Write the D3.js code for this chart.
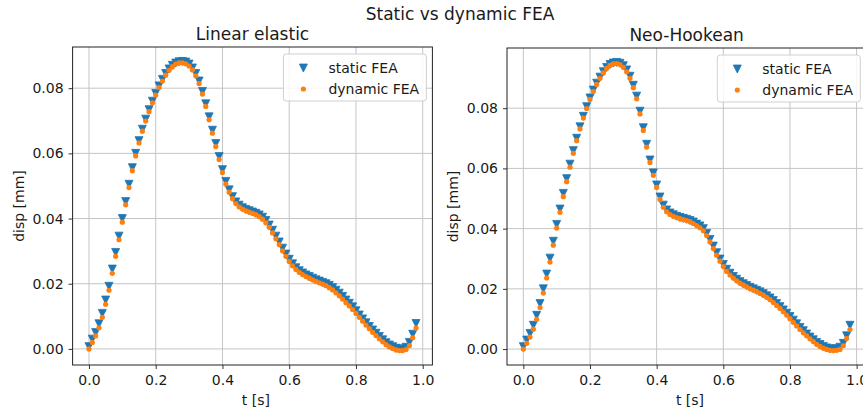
<!DOCTYPE html>
<html>
<head>
<meta charset="utf-8">
<script src="https://cdn.jsdelivr.net/npm/d3@7"></script>
<style>
  html, body { margin: 0; padding: 0; background: #fff; }
  svg { display: block; font-family: "DejaVu Sans", sans-serif; }
</style>
</head>
<body>
<script>
// Time steps [s]
const time = [
  0.00,0.01,0.02,0.03,0.04,0.05,0.06,0.07,0.08,0.09,
  0.10,0.11,0.12,0.13,0.14,0.15,0.16,0.17,0.18,0.19,
  0.20,0.21,0.22,0.23,0.24,0.25,0.26,0.27,0.28,0.29,
  0.30,0.31,0.32,0.33,0.34,0.35,0.36,0.37,0.38,0.39,
  0.40,0.41,0.42,0.43,0.44,0.45,0.46,0.47,0.48,0.49,
  0.50,0.51,0.52,0.53,0.54,0.55,0.56,0.57,0.58,0.59,
  0.60,0.61,0.62,0.63,0.64,0.65,0.66,0.67,0.68,0.69,
  0.70,0.71,0.72,0.73,0.74,0.75,0.76,0.77,0.78,0.79,
  0.80,0.81,0.82,0.83,0.84,0.85,0.86,0.87,0.88,0.89,
  0.90,0.91,0.92,0.93,0.94,0.95,0.96,0.97,0.98
];

// Linear elastic material: displacement [mm]
const linearStatic = [
  0.0007,0.0030,0.0050,0.0077,0.0109,0.0150,0.0192,0.0245,0.0296,0.0346,
  0.0400,0.0452,0.0505,0.0556,0.0600,0.0639,0.0674,0.0705,0.0734,0.0760,
  0.0784,0.0807,0.0827,0.0845,0.0859,0.0870,0.0877,0.0881,0.0882,0.0880,
  0.0874,0.0862,0.0845,0.0822,0.0790,0.0752,0.0712,0.0671,0.0630,0.0590,
  0.0550,0.0514,0.0488,0.0467,0.0451,0.0441,0.0433,0.0428,0.0424,0.0420,
  0.0416,0.0411,0.0404,0.0394,0.0380,0.0364,0.0346,0.0328,0.0309,0.0291,
  0.0275,0.0261,0.0249,0.0240,0.0233,0.0227,0.0222,0.0217,0.0212,0.0208,
  0.0204,0.0200,0.0195,0.0188,0.0180,0.0171,0.0161,0.0150,0.0140,0.0129,
  0.0117,0.0104,0.0092,0.0080,0.0069,0.0058,0.0048,0.0038,0.0028,0.0019,
  0.0012,0.0007,0.0002,0.0000,0.0000,0.0005,0.0020,0.0045,0.0078
];
const linearDynamic = [
  0.0000,0.0020,0.0040,0.0065,0.0097,0.0137,0.0180,0.0232,0.0284,0.0335,
  0.0389,0.0442,0.0495,0.0547,0.0592,0.0632,0.0668,0.0699,0.0728,0.0755,
  0.0779,0.0802,0.0822,0.0840,0.0855,0.0866,0.0874,0.0878,0.0878,0.0875,
  0.0868,0.0856,0.0838,0.0814,0.0782,0.0744,0.0703,0.0662,0.0621,0.0581,
  0.0541,0.0506,0.0481,0.0461,0.0446,0.0436,0.0429,0.0424,0.0420,0.0416,
  0.0412,0.0406,0.0398,0.0387,0.0373,0.0356,0.0338,0.0320,0.0301,0.0284,
  0.0268,0.0255,0.0244,0.0235,0.0228,0.0222,0.0217,0.0212,0.0207,0.0203,
  0.0199,0.0194,0.0188,0.0181,0.0172,0.0163,0.0153,0.0142,0.0132,0.0121,
  0.0109,0.0097,0.0085,0.0073,0.0062,0.0051,0.0041,0.0031,0.0022,0.0013,
  0.0006,0.0001,-0.0003,-0.0005,-0.0005,-0.0002,0.0010,0.0034,0.0064
];

// Neo-Hookean material: displacement [mm]
const neoStatic = [
  0.0008,0.0030,0.0052,0.0079,0.0112,0.0151,0.0200,0.0249,0.0302,0.0358,
  0.0414,0.0465,0.0517,0.0566,0.0614,0.0659,0.0700,0.0738,0.0773,0.0805,
  0.0834,0.0860,0.0883,0.0903,0.0921,0.0935,0.0945,0.0950,0.0952,0.0949,
  0.0941,0.0927,0.0906,0.0876,0.0840,0.0790,0.0735,0.0680,0.0628,0.0585,
  0.0545,0.0505,0.0478,0.0462,0.0452,0.0446,0.0441,0.0437,0.0434,0.0431,
  0.0427,0.0422,0.0415,0.0409,0.0400,0.0384,0.0364,0.0342,0.0320,0.0299,
  0.0281,0.0265,0.0252,0.0241,0.0232,0.0224,0.0217,0.0211,0.0205,0.0200,
  0.0195,0.0190,0.0184,0.0177,0.0170,0.0161,0.0151,0.0141,0.0130,0.0119,
  0.0108,0.0096,0.0084,0.0072,0.0061,0.0050,0.0040,0.0031,0.0022,0.0015,
  0.0009,0.0004,0.0001,0.0000,0.0001,0.0006,0.0019,0.0044,0.0079
];
const neoDynamic = [
  0.0000,0.0019,0.0040,0.0066,0.0099,0.0138,0.0186,0.0236,0.0289,0.0345,
  0.0402,0.0454,0.0506,0.0556,0.0604,0.0650,0.0692,0.0731,0.0767,0.0799,
  0.0829,0.0855,0.0879,0.0899,0.0917,0.0932,0.0942,0.0947,0.0948,0.0945,
  0.0936,0.0921,0.0899,0.0868,0.0831,0.0781,0.0726,0.0671,0.0620,0.0577,
  0.0537,0.0497,0.0471,0.0456,0.0447,0.0441,0.0437,0.0433,0.0430,0.0427,
  0.0423,0.0417,0.0410,0.0403,0.0393,0.0377,0.0356,0.0334,0.0312,0.0292,
  0.0274,0.0258,0.0246,0.0236,0.0227,0.0219,0.0213,0.0207,0.0201,0.0196,
  0.0191,0.0185,0.0179,0.0172,0.0164,0.0155,0.0145,0.0135,0.0124,0.0113,
  0.0101,0.0089,0.0077,0.0065,0.0054,0.0044,0.0034,0.0025,0.0016,0.0009,
  0.0003,-0.0001,-0.0004,-0.0005,-0.0004,-0.0001,0.0011,0.0035,0.0065
];

const seriesNames = ["static FEA", "dynamic FEA"];
const panelTitles = ["Linear elastic", "Neo-Hookean"];
const xTicks = [0.0, 0.2, 0.4, 0.6, 0.8, 1.0];
const yTicks = [0.00, 0.02, 0.04, 0.06, 0.08];
const suptitle = "Static vs dynamic FEA";
const xLabel = "t [s]";
const yLabel = "disp [mm]";

const W = 863, H = 412;
const BLUE = "#1f77b4", ORANGE = "#ff7f0e";
const TEXT = "#1a1a1a";

const svg = d3.select("body").append("svg")
  .attr("width", W).attr("height", H);
svg.append("rect").attr("width", W).attr("height", H).attr("fill", "#fff");

svg.append("text")
  .attr("x", 460).attr("y", 20)
  .attr("text-anchor", "middle")
  .attr("font-size", 17).attr("fill", TEXT)
  .text(suptitle);

// matplotlib-style 5% margin around the data
function padded([lo, hi]) {
  const p = (hi - lo) * 0.05;
  return [lo - p, hi + p];
}

// downward triangle marker
function triangleDown(r) {
  return `M0,${r} L${-r},${-r} L${r},${-r} Z`;
}

function drawPanel(opts) {
  const { left, right, top, bottom, title, staticVals, dynamicVals, yLabelX } = opts;
  const g = svg.append("g");

  const x = d3.scaleLinear().domain(padded(d3.extent(time))).range([left, right]);
  const allY = staticVals.concat(dynamicVals);
  const y = d3.scaleLinear().domain(padded(d3.extent(allY))).range([bottom, top]);

  // grid
  g.append("g").selectAll("line").data(xTicks).join("line")
    .attr("x1", d => x(d)).attr("x2", d => x(d))
    .attr("y1", top).attr("y2", bottom)
    .attr("stroke", "#c4c4c4").attr("stroke-width", 1);
  g.append("g").selectAll("line").data(yTicks).join("line")
    .attr("x1", left).attr("x2", right)
    .attr("y1", d => y(d)).attr("y2", d => y(d))
    .attr("stroke", "#c4c4c4").attr("stroke-width", 1);

  // axes
  const xAxis = d3.axisBottom(x).tickValues(xTicks).tickFormat(d => d.toFixed(1))
    .tickSizeInner(4).tickSizeOuter(0).tickPadding(4);
  const yAxis = d3.axisLeft(y).tickValues(yTicks).tickFormat(d => d.toFixed(2))
    .tickSizeInner(4).tickSizeOuter(0).tickPadding(5);

  const gx = g.append("g").attr("transform", `translate(0,${bottom})`).call(xAxis);
  const gy = g.append("g").attr("transform", `translate(${left},0)`).call(yAxis);
  [gx, gy].forEach(a => {
    a.select(".domain").remove();
    a.selectAll(".tick line").attr("stroke", "#333").attr("stroke-width", 1);
    a.selectAll(".tick text").attr("font-size", 14).attr("fill", TEXT)
      .attr("font-family", "DejaVu Sans");
  });
  gx.selectAll(".tick text").attr("dy", "0.85em");

  // spines
  g.append("rect")
    .attr("x", left).attr("y", top)
    .attr("width", right - left).attr("height", bottom - top)
    .attr("fill", "none").attr("stroke", "#222").attr("stroke-width", 1);

  // series: static as downward triangles, dynamic as dots
  g.append("g").selectAll("path").data(staticVals).join("path")
    .attr("d", triangleDown(4))
    .attr("transform", (d, i) => `translate(${x(time[i])},${y(d)})`)
    .attr("fill", BLUE).attr("stroke", BLUE).attr("stroke-width", 0.8);
  g.append("g").selectAll("circle").data(dynamicVals).join("circle")
    .attr("cx", (d, i) => x(time[i])).attr("cy", d => y(d))
    .attr("r", 2.6).attr("fill", ORANGE);

  // titles / labels
  g.append("text")
    .attr("x", (left + right) / 2).attr("y", top - 7)
    .attr("text-anchor", "middle").attr("font-size", 17).attr("fill", TEXT)
    .text(title);
  g.append("text")
    .attr("x", (x(0) + x(1)) / 2).attr("y", bottom + 40)
    .attr("text-anchor", "middle").attr("font-size", 14).attr("fill", TEXT)
    .text(xLabel);
  g.append("text")
    .attr("transform", `translate(${yLabelX},${(top + bottom) / 2}) rotate(-90)`)
    .attr("text-anchor", "middle").attr("font-size", 14).attr("fill", TEXT)
    .text(yLabel);

  // legend
  const lw = 143, lh = 47;
  const lx = right - 6 - lw, ly = top + 7;
  const lg = g.append("g").attr("transform", `translate(${lx},${ly})`);
  lg.append("rect").attr("width", lw).attr("height", lh).attr("rx", 3)
    .attr("fill", "#fff").attr("fill-opacity", 0.85)
    .attr("stroke", "#d0d0d0").attr("stroke-width", 1);
  seriesNames.forEach((name, i) => {
    const cy = 14 + i * 21;
    if (i === 0) {
      lg.append("path").attr("d", triangleDown(4))
        .attr("transform", `translate(20,${cy})`)
        .attr("fill", BLUE).attr("stroke", BLUE).attr("stroke-width", 0.8);
    } else {
      lg.append("circle").attr("cx", 20).attr("cy", cy).attr("r", 2.6).attr("fill", ORANGE);
    }
    lg.append("text").attr("x", 45).attr("y", cy + 5)
      .attr("font-size", 14).attr("fill", TEXT).text(name);
  });
}

drawPanel({
  left: 72.6, right: 432.4, top: 47, bottom: 365,
  title: panelTitles[0], staticVals: linearStatic, dynamicVals: linearDynamic,
  yLabelX: 24
});
drawPanel({
  left: 507, right: 866.3, top: 48, bottom: 365,
  title: panelTitles[1], staticVals: neoStatic, dynamicVals: neoDynamic,
  yLabelX: 458
});
</script>
</body>
</html>
